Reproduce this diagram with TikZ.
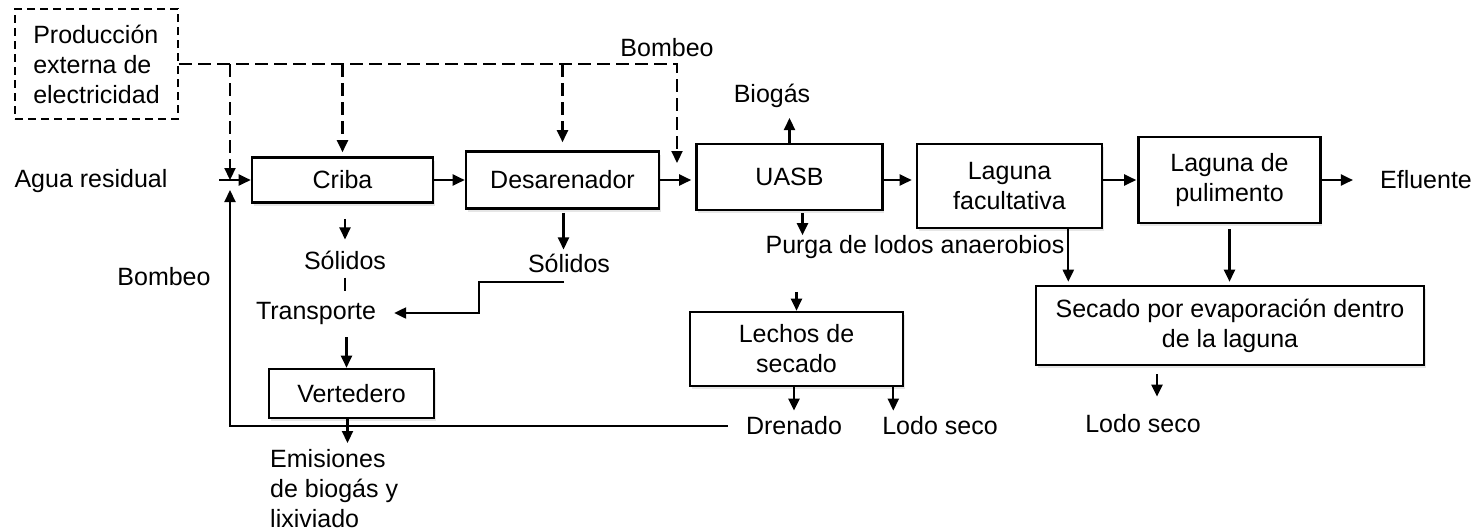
\documentclass[tikz,border=0pt]{standalone}
\usepackage{fontspec}
\setmainfont{Liberation Sans}
\usetikzlibrary{arrows.meta,shadows}
\tikzstyle{block} = [rectangle, draw, line width=2.6pt, fill=white, align=center, inner sep=0pt, drop shadow={opacity=0.2, shadow xshift=1.5pt, shadow yshift=-3pt}]
\tikzstyle{source} = [rectangle, draw, line width=2pt, dash pattern=on 8pt off 5pt, align=left, inner sep=0pt]
\tikzstyle{line} = [draw, line width=2.2pt, -{Triangle[length=12pt,width=11pt]}]
\tikzstyle{dline} = [line, dash pattern=on 13pt off 6pt]
\tikzstyle{tag} = [inner sep=0pt, align=left]

\begin{document}
\begin{tikzpicture}[x=1pt, y=-1pt, node distance=220pt, font=\fontsize{25}{30}\selectfont]
    \useasboundingbox (0,0) rectangle (1477,531);

    % process chain
    \node [source, minimum width=163pt, minimum height=110pt] (prod) at (96.5,64) {Producción\\externa de\\electricidad};
    \node [block, minimum width=181pt, minimum height=45pt] (criba) at (342.5,180) {Criba};
    \node [block, right of=criba, minimum width=193pt, minimum height=57pt] (desar) {Desarenador};
    \node [block, right of=desar, node distance=227pt, yshift=3pt, minimum width=186pt, minimum height=66pt] (uasb) {UASB};
    \node [block, right of=uasb, yshift=-9pt, minimum width=185pt, minimum height=84pt] (lagfac) {Laguna\\facultativa};
    \node [block, right of=lagfac, yshift=6pt, minimum width=182pt, minimum height=86pt] (pul) {Laguna de\\pulimento};
    \node [block, minimum width=388pt, minimum height=79pt] (secado) at (1230,325.5) {Secado por evaporación dentro\\de la laguna};
    \node [block, minimum width=213pt, minimum height=74pt] (lechos) at (796.5,349) {Lechos de\\secado};
    \node [block, minimum width=165pt, minimum height=49pt] (vert) at (351.5,393.5) {Vertedero};

    % labels
    \node [tag] (agua) at (91,181) {Agua residual};
    \node [tag] (bomb1) at (667,48) {Bombeo};
    \node [tag] (bomb2) at (164,277) {Bombeo};
    \node [tag] (biogas) at (772,96) {Biogás};
    \node [tag] (sol1) at (345,260) {Sólidos};
    \node [tag] (sol2) at (569,263) {Sólidos};
    \node [tag] (trans) at (316,313) {Transporte};
    \node [tag] (purga) at (915,247) {Purga de lodos anaerobios};
    \node [tag] (dren) at (794,426) {Drenado};
    \node [tag] (lodo1) at (940,426) {Lodo seco};
    \node [tag] (lodo2) at (1143,424) {Lodo seco};
    \node [tag] (eflu) at (1426,180) {Efluente};
    \node [tag, anchor=north west] (emis) at (270,449) {Emisiones\\de biogás y\\lixiviado};

    \coordinate (corner) at (677,64);
    \coordinate (uasbin) at (677,163);
    \coordinate (junc) at (230,180);
    \coordinate (inlet) at (219,180);
    \coordinate (s2out) at (564,282);
    \coordinate (bend) at (479,300);

    % electricity
    \path [dline] (prod.east) -- (corner) -- (uasbin);
    \path [dline] (prod.east -| junc) -- (junc);
    \path [dline, shorten >=4pt] (prod.east -| criba) -- (criba.north);
    \path [dline, shorten >=8pt] (prod.east -| desar) -- (desar.north);

    % water line
    \path [line] (inlet) -- (criba.west);
    \path [line] (criba) -- (desar);
    \path [line, shorten >=4pt] (desar.east) -- (desar.east -| uasb.west);
    \path [line, shorten >=4pt] (uasb.east |- desar.east) -- (desar.east -| lagfac.west);
    \path [line, shorten >=1pt] (lagfac.east |- desar.east) -- (desar.east -| pul.west);
    \path [line, shorten >=27pt] (pul.east) -- (eflu.west);
    \path [line, shorten >=10pt] (uasb.north) -- (uasb.north |- biogas.south);

    % solids
    \path [line, shorten <=15pt, shorten >=11pt] (criba.south -| sol1) -- (sol1.north);
    \draw [line width=2.2pt, shorten <=8pt, shorten >=11pt] (sol1.south) -- (sol1.south |- trans.north);
    \path [line, shorten <=3pt, shorten >=4pt] ([xshift=1pt]desar.south) -- ([xshift=1pt]desar.south |- sol2.north);
    \path [line, shorten >=18pt] (s2out) -| (bend) |- (trans.east);
    \path [line, shorten <=13pt] ([xshift=-5pt]vert.north |- trans.south) -- ([xshift=-5pt]vert.north);
    \path [line, shorten >=6pt] ([xshift=-4pt]vert.south) -- ([xshift=-4pt]vert.south |- emis.north);
    \path [line, shorten <=18pt, shorten >=10pt] (dren.west) -| (junc);

    % sludge
    \path [line, shorten <=2pt] ([xshift=13pt]uasb.south) -- ([xshift=13pt]uasb.south |- purga.north);
    \path [line, shorten <=33pt] (lechos.north |- purga.south) -- (lechos.north);
    \path [line, shorten >=6pt] (lechos.south -| dren) -- (dren.north);
    \path [line, shorten >=6pt] ([xshift=-11pt]lechos.south east) -- ([xshift=-11pt]lechos.south east |- lodo1.north);
    \path [line, shorten >=3pt] ([xshift=-35pt]lagfac.south east) -- ([xshift=-35pt]lagfac.south east |- secado.north);
    \path [line, shorten <=5pt, shorten >=3pt] (pul.south) -- (pul.south |- secado.north);
    \path [line, shorten <=8pt, shorten >=18pt] ([xshift=-73pt]secado.south) -- ([xshift=-73pt]secado.south |- lodo2.north);
\end{tikzpicture}
\end{document}
